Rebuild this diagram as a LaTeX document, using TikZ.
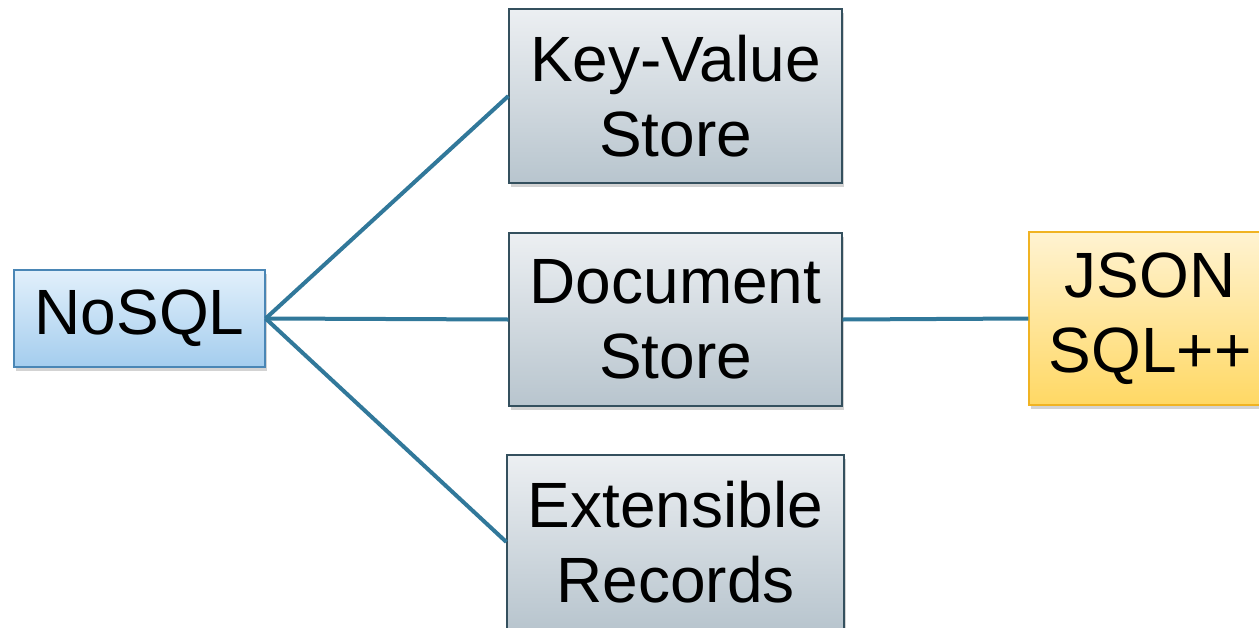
\documentclass[tikz,border=0pt]{standalone}
\usepackage{fontspec}
\setmainfont{Liberation Sans}
\usetikzlibrary{shadows}
\definecolor{linkblue}{HTML}{31789A}
\definecolor{grayTop}{HTML}{ECEFF2}
\definecolor{grayBot}{HTML}{B8C5CE}
\definecolor{grayEdge}{HTML}{34505E}
\definecolor{blueTop}{HTML}{E2F0FB}
\definecolor{blueBot}{HTML}{A4CDEE}
\definecolor{blueEdge}{HTML}{4A86B5}
\definecolor{goldTop}{HTML}{FFF3D2}
\definecolor{goldBot}{HTML}{FFD864}
\definecolor{goldEdge}{HTML}{F0B323}
\tikzset{
  box/.style={rectangle, draw, line width=1.3pt, align=center, inner sep=0pt,
    font=\fontsize{64}{75}\selectfont,
    drop shadow={opacity=0.35, shadow xshift=2pt, shadow yshift=-4pt}},
  graybox/.style={box, draw=grayEdge, top color=grayTop, bottom color=grayBot},
  bluebox/.style={box, draw=blueEdge, top color=blueTop, bottom color=blueBot},
  goldbox/.style={box, draw=goldEdge, top color=goldTop, bottom color=goldBot},
  link/.style={draw=linkblue, line width=4pt}
}
\begin{document}
\begin{tikzpicture}[x=1pt, y=-1pt]
  \useasboundingbox (0,0) rectangle (1259,627);
  % root category
  \node[bluebox, minimum width=251pt, minimum height=97pt] (nosql) at (139.5,318.5) {NoSQL};
  % the three store families
  \node[graybox, minimum width=333pt, minimum height=174pt] (kv) at (675.5,96) {Key-Value\\Store};
  \node[graybox, minimum width=333pt, minimum height=173pt] (doc) at (675.5,319.5) {Document\\Store};
  \node[graybox, minimum width=337pt, minimum height=174pt] (ext) at (675.5,542) {Extensible\\Records};
  % data model and query language
  \node[goldbox, minimum width=242pt, minimum height=173pt] (json) at (1150,318.5) {JSON\\SQL++};
  % connectors
  \draw[link] (nosql.east) -- (kv.west);
  \draw[link] (nosql.east) -- (doc.west);
  \draw[link] (nosql.east) -- (ext.west);
  \draw[link] (doc.east) -- (json.west);
\end{tikzpicture}
\end{document}
